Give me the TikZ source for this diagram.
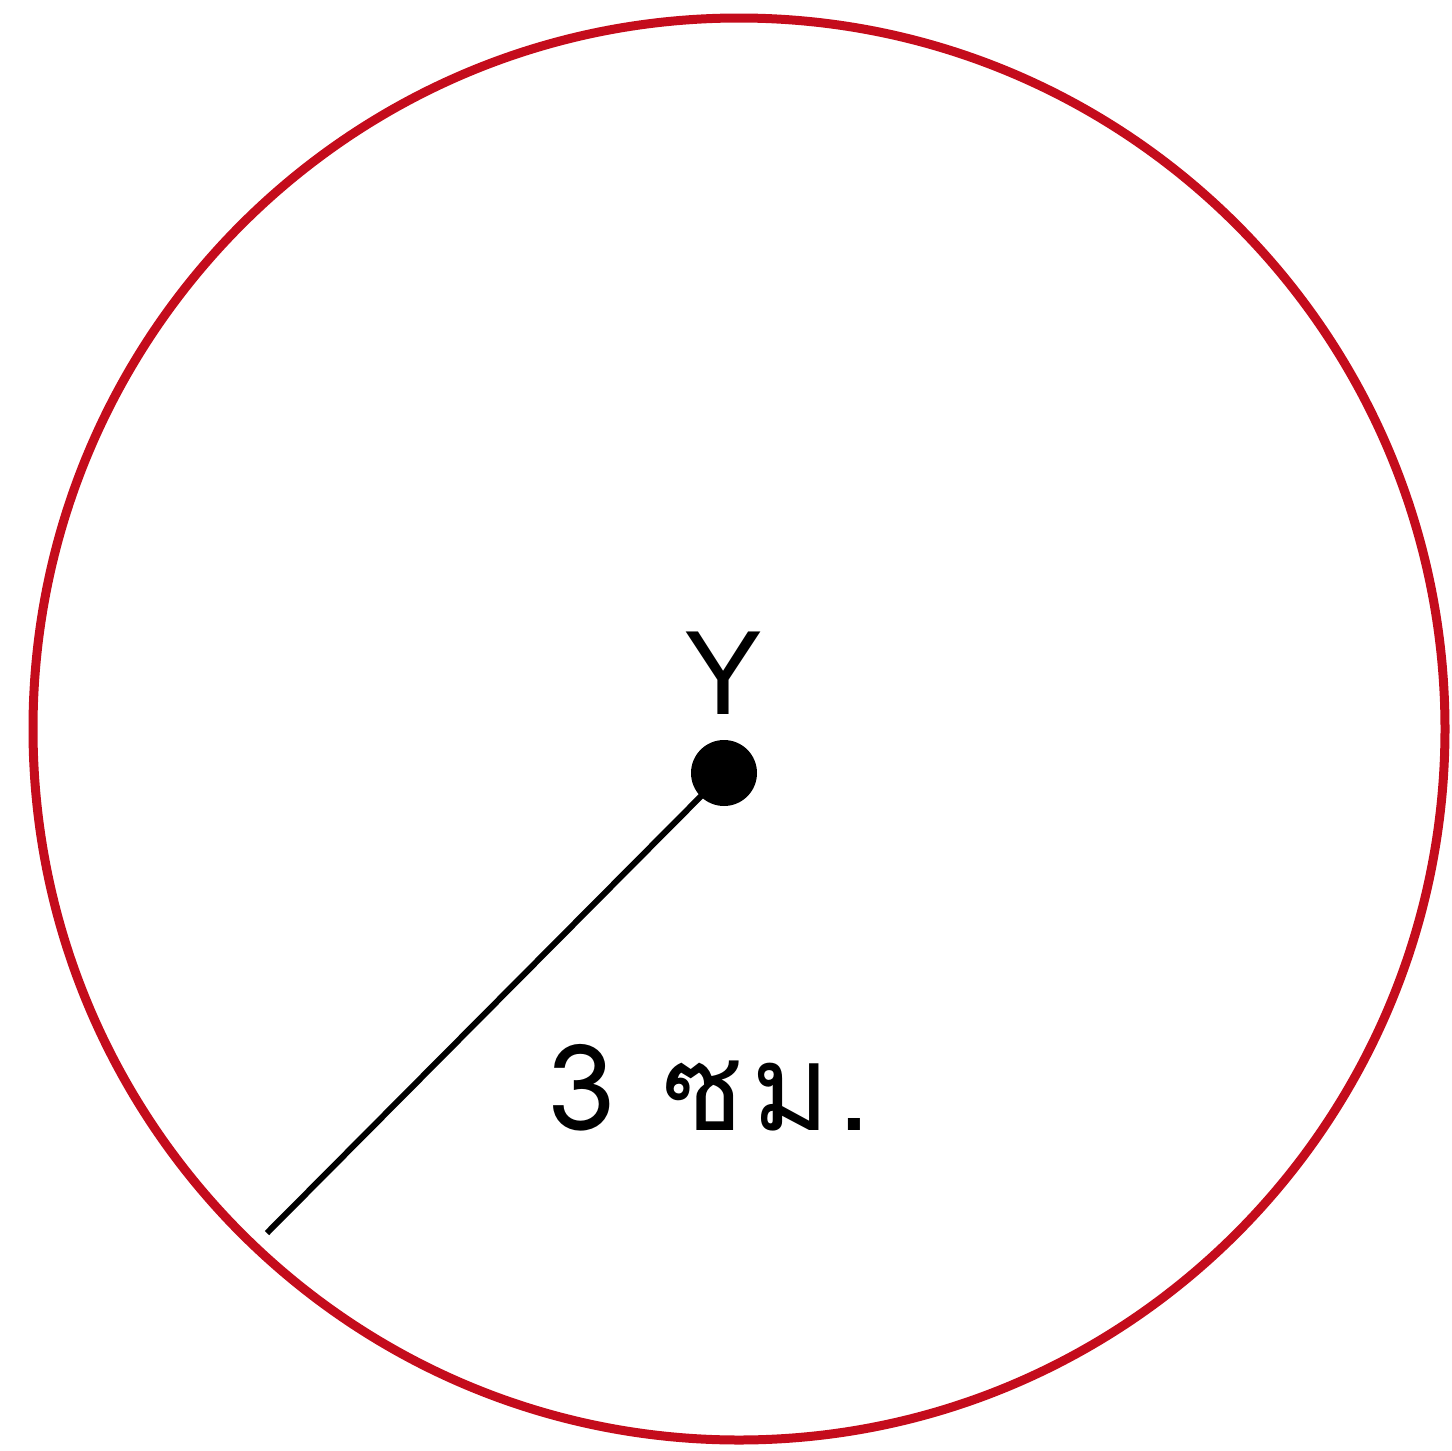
\documentclass[tikz,border=0pt]{standalone}
\usepackage{fontspec}
\setmainfont{Liberation Sans}
\newfontfamily\thaifont[Script=Thai,LetterSpace=6]{Loma}
\definecolor{circred}{RGB}{196,12,28}
\begin{document}
\begin{tikzpicture}[x=1pt,y=-1pt,
  rim/.style={draw=circred,line width=9pt},
  radline/.style={draw=black,line width=6pt},
  lbl/.style={inner sep=0pt,font=\fontsize{120}{120}\selectfont}]
\useasboundingbox (0,0) rectangle (1452,1451);
\draw[rim] (739,729) ellipse [x radius=706, y radius=711];
\coordinate (P) at (267,1233);
\node[circle,fill=black,minimum size=66pt,inner sep=0pt] (Y) at (724,773) {};
\draw[radline] (Y.center) -- (P);
\node[lbl,anchor=base] (ylab) at (724,714) {Y};
\node[lbl,anchor=base west] (len) at (548,1130) {\thaifont 3 ซม.};
\end{tikzpicture}
\end{document}
